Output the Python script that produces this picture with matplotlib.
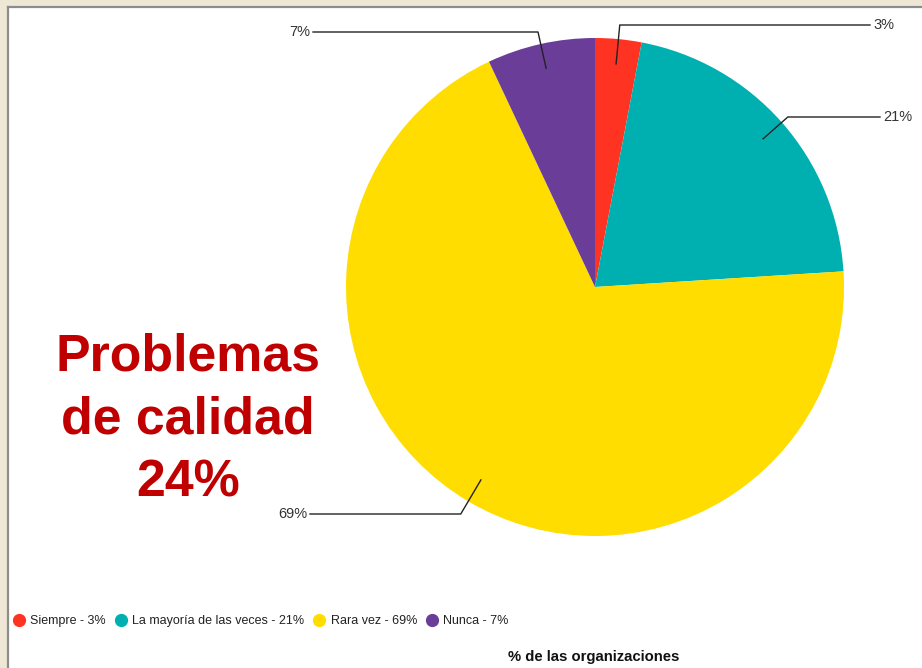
import numpy as np
import matplotlib
matplotlib.use("Agg")
import matplotlib.pyplot as plt
from matplotlib.patches import Rectangle
from matplotlib.lines import Line2D

plt.rcParams['font.family'] = ['Liberation Sans', 'DejaVu Sans']

# data
categories = ["Siempre", "La mayoría de las veces", "Rara vez", "Nunca"]
values = [3, 21, 69, 7]
colors = ["#FF3322", "#00B0B0", "#FFDD00", "#6A3D99"]
headline = "Problemas\nde calidad\n24%"

W, H = 922, 668
fig = plt.figure(figsize=(W / 100, H / 100), dpi=100)
fig.patch.set_facecolor("#EFE7D6")
ax = fig.add_axes([0, 0, 1, 1])

# white panel with grey border on the left and top
ax.add_patch(Rectangle((8, -5), W, H - 7 + 5, facecolor="white",
                       edgecolor="none", zorder=0))
ax.plot([8, 8], [-5, H - 7], color="#8C8C8C", lw=1.6, zorder=1)
ax.plot([8, W + 5], [H - 7, H - 7], color="#8C8C8C", lw=1.6, zorder=1)

cx, cy, R = 595, H - 287, 249
ax.pie(values, colors=colors, startangle=90, counterclock=False,
       center=(cx, cy), radius=R, frame=True,
       wedgeprops=dict(linewidth=0))
ax.set_xlim(0, W)
ax.set_ylim(0, H)
ax.axis("off")

# leader lines: elbow height (pixels from top) and end of horizontal run
leaders = [(25, 870, "left"), (117, 880, "left"), (514, 310, "right"), (32, 313, "right")]
cum = np.cumsum([0] + values[:-1])
for v, c0, (ey, ex, side) in zip(values, cum, leaders):
    ang = np.deg2rad((c0 + v / 2) / sum(values) * 360)
    dx, dy = np.sin(ang), np.cos(ang)
    x0, y0 = cx + 0.9 * R * dx, cy + 0.9 * R * dy
    ey = H - ey
    t = (ey - y0) / dy
    x1 = x0 + t * dx
    ax.plot([x0, x1, ex], [y0, ey, ey], color="#222222", lw=1.0, zorder=3)
    if side == "left":
        ax.text(ex + 3, ey, f"{v}%", ha="left", va="center", fontsize=10.5,
                color="#333333")
    else:
        ax.text(ex - 3, ey, f"{v}%", ha="right", va="center", fontsize=10.5,
                color="#333333")

ax.text(188, H - 420, headline, ha="center", va="center", fontsize=37.4,
        fontweight="bold", color="#C00000", linespacing=1.37)

handles = [Line2D([], [], marker="o", ls="none", markersize=8.5,
                  markerfacecolor=c, markeredgecolor=c) for c in colors]
labels = [f"{n} - {v}%" for n, v in zip(categories, values)]
fig.legend(handles, labels, loc="center left", bbox_to_anchor=(0.001, 1 - 621 / H),
           ncol=4, frameon=False, fontsize=9, handletextpad=0.35,
           columnspacing=0.65, handlelength=1.1, labelcolor="#222222")

ax.text(594, H - 657, "% de las organizaciones", ha="center", va="center",
        fontsize=10.7, fontweight="bold", color="#111111")

fig.savefig("out.png", dpi=100, facecolor=fig.get_facecolor())
